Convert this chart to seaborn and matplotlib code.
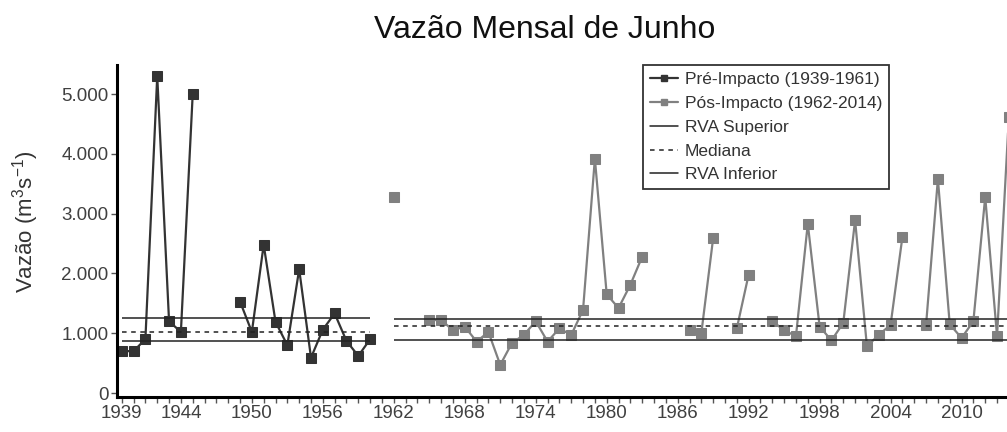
import numpy as np
import pandas as pd
import matplotlib
matplotlib.use("Agg")
import matplotlib.pyplot as plt
from matplotlib.lines import Line2D
import seaborn as sns


# Junho - vazao mensal (m3/s), NaN = sem dado
PRE_YEARS = list(range(1939, 1962))
PRE_VALUES = [700, 700, 900, 5300, 1200, 1020, 5000, np.nan, np.nan, np.nan,
              1530, 1020, 2480, 1190, 800, 2070, 590, 1060, 1330, 870,
              620, 900, np.nan]

POST_YEARS = list(range(1962, 2015))
POST_VALUES = [3280, np.nan, np.nan, 1220, 1220, 1050, 1110, 860, 1020, 470,
               840, 970, 1200, 860, 1080, 970, 1390, 3920, 1650, 1420,
               1810, 2280, np.nan, np.nan, np.nan, 1050, 1000, 2590, np.nan, 1080,
               1980, np.nan, 1200, 1050, 950, 2830, 1110, 880, 1170, 2890,
               780, 970, 1140, 2610, np.nan, 1140, 3580, 1150, 920, 1200,
               3280, 950, 4620]

# RVA limits: superior, mediana, inferior
PRE_RVA = [1255, 1020, 875]
POST_RVA = [1240, 1120, 885]
PRE_SPAN = (1939, 1960)
POST_SPAN = (1962, 2015)

XTICK_LABELS = [1939, 1944, 1950, 1956, 1962, 1968, 1974, 1980, 1986, 1992, 1998, 2004, 2010]
YTICKS = [0, 1000, 2000, 3000, 4000, 5000]

PRE_COLOR = "#333333"
POST_COLOR = "#808080"
LINE_COLOR = "#222222"


def to_segments(years, values):
    df = pd.DataFrame({"ano": years, "vazao": values})
    df["seg"] = df["vazao"].isna().cumsum()
    return df.dropna()


sns.set_theme(style="white")
plt.rcParams["font.family"] = ["Liberation Sans", "DejaVu Sans"]
plt.rcParams["mathtext.default"] = "regular"

fig = plt.figure(figsize=(10.07, 4.32), dpi=100)
ax = fig.add_axes([0.1162, 0.081, 0.8927, 0.7685])

pre_df = to_segments(PRE_YEARS, PRE_VALUES)
post_df = to_segments(POST_YEARS, POST_VALUES)

for df, color in [(pre_df, PRE_COLOR), (post_df, POST_COLOR)]:
    sns.lineplot(
        data=df, x="ano", y="vazao", units="seg", estimator=None,
        color=color, linewidth=1.6, marker="s", markersize=7,
        markeredgecolor=color, markerfacecolor=color,
        legend=False, ax=ax,
    )

for rva, span in [(PRE_RVA, PRE_SPAN), (POST_RVA, POST_SPAN)]:
    ax.hlines(rva[0], span[0], span[1], color=LINE_COLOR, linewidth=1.1)
    ax.hlines(rva[1], span[0], span[1], color=LINE_COLOR, linewidth=1.1,
              linestyles=(0, (3, 3)))
    ax.hlines(rva[2], span[0], span[1], color=LINE_COLOR, linewidth=1.1)

ax.set_xlim(1938.6, 2014.6)
ax.set_ylim(-67, 5485)

ax.set_xticks(range(1939, 2015), minor=True)
ax.set_xticks(XTICK_LABELS)
ax.set_xticklabels([str(y) for y in XTICK_LABELS])
ax.set_yticks(YTICKS)
ax.set_yticklabels([f"{v:,}".replace(",", ".") for v in YTICKS])

ax.tick_params(axis="both", which="both", direction="out", color="#555555",
               labelcolor="#404040", labelsize=13.5, length=4, width=1,
               bottom=True, left=True, pad=2)

for side in ["top", "right"]:
    ax.spines[side].set_visible(False)
for side in ["left", "bottom"]:
    ax.spines[side].set_color("black")
    ax.spines[side].set_linewidth(2.2)

ax.set_xlabel("")
ax.set_ylabel("")

fig.text(0.541, 1 - 38 / 432, "Vazão Mensal de Junho", ha="center",
         va="baseline", fontsize=23, color="#111111")
fig.text(26 / 1007, 1 - 222 / 432, "Vazão (m$^{3}$s$^{-1}$)", rotation=90,
         ha="center", va="center", fontsize=16, color="#333333")

handles = [
    Line2D([], [], color=PRE_COLOR, linewidth=1.6, marker="s", markersize=5),
    Line2D([], [], color=POST_COLOR, linewidth=1.6, marker="s", markersize=5),
    Line2D([], [], color=LINE_COLOR, linewidth=1.1),
    Line2D([], [], color=LINE_COLOR, linewidth=1.1, linestyle=(0, (3, 3))),
    Line2D([], [], color=LINE_COLOR, linewidth=1.1),
]
labels = ["Pré-Impacto (1939-1961)", "Pós-Impacto (1962-2014)",
          "RVA Superior", "Mediana", "RVA Inferior"]
leg = ax.legend(
    handles, labels, loc="upper left",
    bbox_to_anchor=(643 / 1007, 1 - 65 / 432), bbox_transform=fig.transFigure,
    borderaxespad=0, fancybox=False, frameon=True, fontsize=12.5,
    handlelength=1.6, handletextpad=0.4, labelspacing=0.5, borderpad=0.4,
)
leg.get_frame().set_edgecolor("black")
leg.get_frame().set_linewidth(1.3)
for text in leg.get_texts():
    text.set_color("#333333")

fig.savefig("out.png", dpi=100)
